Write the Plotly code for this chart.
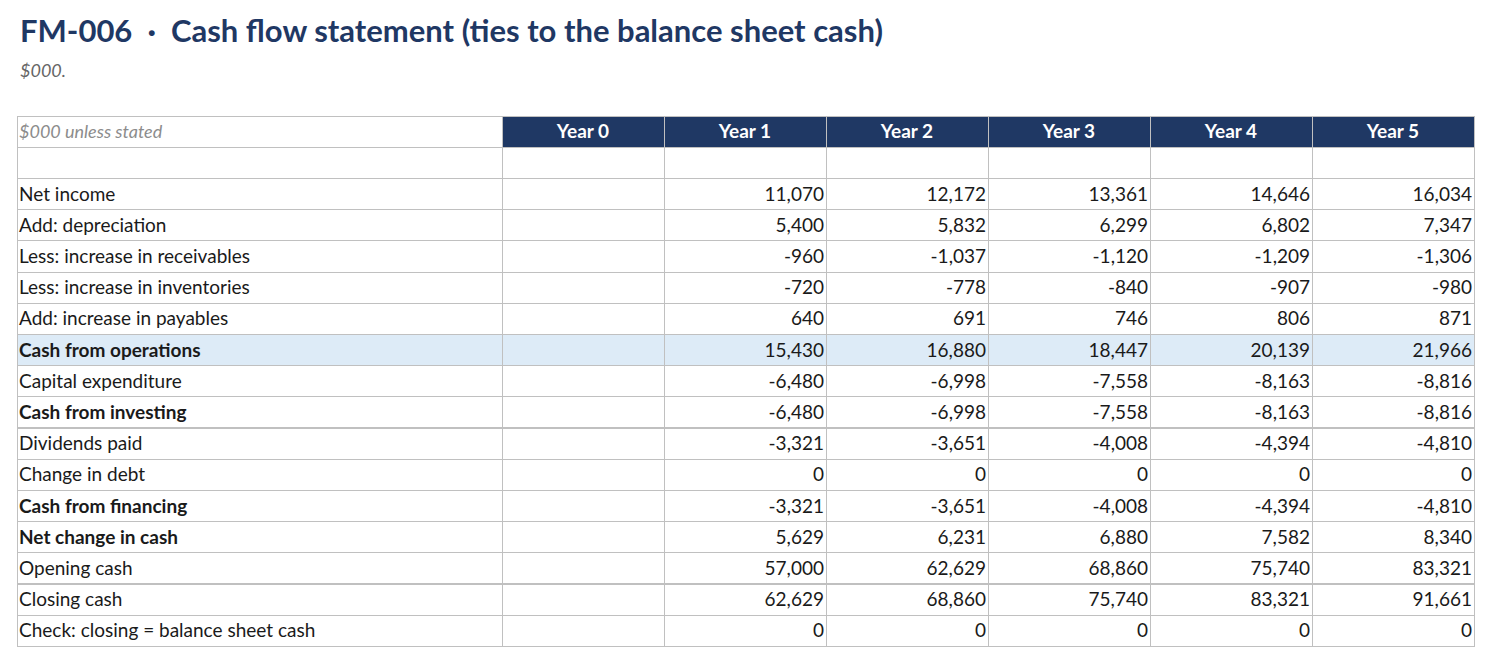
import plotly.graph_objects as go

title_text = "FM-006  ·  Cash flow statement (ties to the balance sheet cash)"
subtitle_text = "$000."
corner_label = "$000 unless stated"
years = ["Year 0", "Year 1", "Year 2", "Year 3", "Year 4", "Year 5"]

row_labels = [
    "Net income", "Add: depreciation", "Less: increase in receivables",
    "Less: increase in inventories", "Add: increase in payables",
    "Cash from operations", "Capital expenditure", "Cash from investing",
    "Dividends paid", "Change in debt", "Cash from financing",
    "Net change in cash", "Opening cash", "Closing cash",
    "Check: closing = balance sheet cash",
]
bold_rows = ["Cash from operations", "Cash from investing",
             "Cash from financing", "Net change in cash"]
highlight_rows = ["Cash from operations"]

year0 = [None] * 15
year1 = [11070, 5400, -960, -720, 640, 15430, -6480, -6480, -3321, 0, -3321, 5629, 57000, 62629, 0]
year2 = [12172, 5832, -1037, -778, 691, 16880, -6998, -6998, -3651, 0, -3651, 6231, 62629, 68860, 0]
year3 = [13361, 6299, -1120, -840, 746, 18447, -7558, -7558, -4008, 0, -4008, 6880, 68860, 75740, 0]
year4 = [14646, 6802, -1209, -907, 806, 20139, -8163, -8163, -4394, 0, -4394, 7582, 75740, 83321, 0]
year5 = [16034, 7347, -1306, -980, 871, 21966, -8816, -8816, -4810, 0, -4810, 8340, 83321, 91661, 0]

NAVY = "#1f3864"
GRID = "#c0c0c0"
HILITE = "#ddebf7"
FONT = "Lato"
TXT = "#1a1a1a"
CLEAR = "rgba(0,0,0,0)"
ROW_H = 31.2
CELL_SIZE = 19

# page body has an 8px margin; figure is sized so the page is 1491x663
W, H = 1483, 655
OFF = 8
SHIFT = 6  # pull text closer to the cell borders than plotly's fixed padding


def fmt(v):
    return "" if v is None else f"{v:,}"


n_rows = len(row_labels) + 1
plain_labels = [""] + ["" if l in bold_rows else l for l in row_labels]
bold_labels = [""] + [l if l in bold_rows else "" for l in row_labels]
value_cols = [[""] + [fmt(v) for v in col] for col in (year0, year1, year2, year3, year4, year5)]

row_fill = ["white"] + [HILITE if l in highlight_rows else "white" for l in row_labels]
col_widths = [485, 162, 162, 162, 162, 162, 162]

tab_left, tab_right, tab_top = 17 - OFF, 1474 - OFF, 116 - OFF
label_right = tab_left + (tab_right - tab_left) * col_widths[0] / sum(col_widths)
dom_y = [0, 1 - tab_top / H]

fig = go.Figure()
# grid, fills and header
fig.add_trace(go.Table(
    domain=dict(x=[tab_left / W, tab_right / W], y=dom_y),
    columnwidth=col_widths,
    header=dict(
        values=[""] + years,
        fill_color=["white"] + [NAVY] * 6,
        line=dict(color=GRID, width=1),
        align="center",
        font=dict(family=FONT, size=19, color="white", weight="bold"),
        height=ROW_H,
    ),
    cells=dict(
        values=[[""] * n_rows for _ in col_widths],
        fill_color=[row_fill] * 7,
        line=dict(color=GRID, width=1),
        height=ROW_H,
    ),
))
# plain row labels (+ corner label)
fig.add_trace(go.Table(
    domain=dict(x=[(tab_left - SHIFT) / W, (label_right - SHIFT) / W], y=dom_y),
    header=dict(values=[corner_label], fill_color=CLEAR,
                line=dict(color=CLEAR, width=0), align="left",
                font=dict(family=FONT, size=18, color="#8c8c8c", style="italic"),
                height=ROW_H),
    cells=dict(values=[plain_labels], fill_color=CLEAR,
               line=dict(color=CLEAR, width=0), align="left",
               font=dict(family=FONT, size=CELL_SIZE, color=TXT), height=ROW_H),
))
# bold row labels
fig.add_trace(go.Table(
    domain=dict(x=[(tab_left - SHIFT) / W, (label_right - SHIFT) / W], y=dom_y),
    header=dict(values=[""], fill_color=CLEAR,
                line=dict(color=CLEAR, width=0), height=ROW_H),
    cells=dict(values=[bold_labels], fill_color=CLEAR,
               line=dict(color=CLEAR, width=0), align="left",
               font=dict(family=FONT, size=CELL_SIZE, color=TXT, weight="bold"),
               height=ROW_H),
))
# numbers
fig.add_trace(go.Table(
    domain=dict(x=[(label_right + SHIFT) / W, (tab_right + SHIFT) / W], y=dom_y),
    columnwidth=col_widths[1:],
    header=dict(values=[""] * 6, fill_color=CLEAR,
                line=dict(color=CLEAR, width=0), height=ROW_H),
    cells=dict(values=value_cols, fill_color=CLEAR,
               line=dict(color=CLEAR, width=0), align="right",
               font=dict(family=FONT, size=CELL_SIZE, color=TXT), height=ROW_H),
))

fig.add_annotation(text=f"<b>{title_text}</b>", xref="paper", yref="paper",
                   x=(18 - OFF) / W, y=1 - (30 - OFF) / H, xanchor="left", yanchor="middle",
                   showarrow=False, font=dict(family=FONT, size=31, color=NAVY))
fig.add_annotation(text=f"<i>{subtitle_text}</i>", xref="paper", yref="paper",
                   x=(18 - OFF) / W, y=1 - (70 - OFF) / H, xanchor="left", yanchor="middle",
                   showarrow=False, font=dict(family=FONT, size=18, color="#666666"))

fig.update_layout(width=W, height=H, margin=dict(l=0, r=0, t=0, b=0),
                  paper_bgcolor="white", plot_bgcolor="white")
fig.write_html("out.html")
